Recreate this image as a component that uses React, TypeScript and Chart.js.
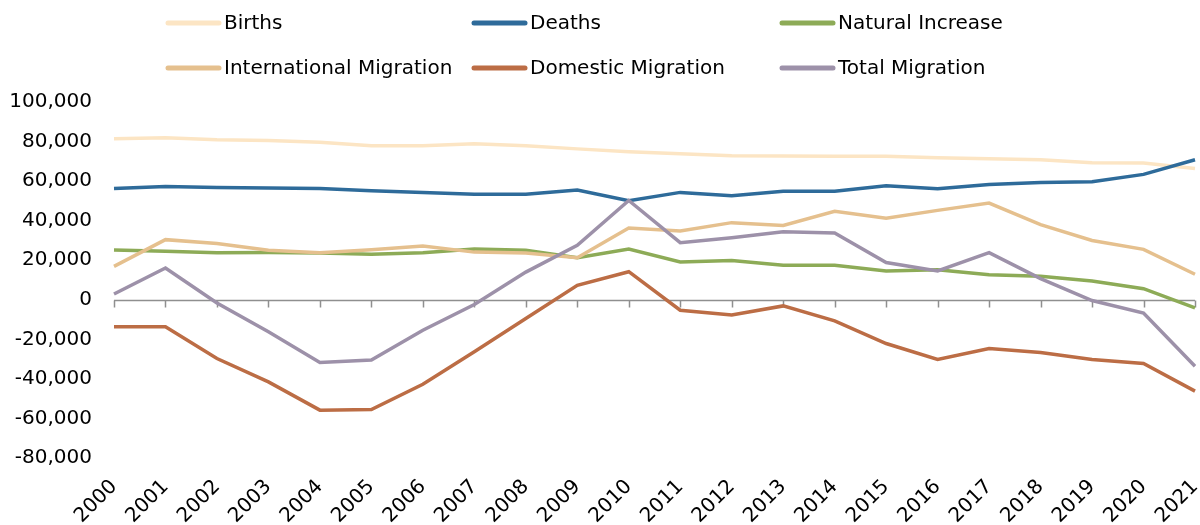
import React, { useEffect, useRef } from "react";
import { Chart, registerables } from "chart.js";

Chart.register(...registerables);

const years = [
  "2000", "2001", "2002", "2003", "2004", "2005", "2006", "2007", "2008", "2009", "2010",
  "2011", "2012", "2013", "2014", "2015", "2016", "2017", "2018", "2019", "2020", "2021",
];

const births = [
  81400, 81900, 80900, 80500, 79700, 77900, 77900, 78900, 77900, 76300, 74800,
  73800, 72800, 72700, 72600, 72600, 71800, 71300, 70800, 69300, 69100, 66400,
];
const deaths = [
  56300, 57300, 56800, 56500, 56300, 55100, 54300, 53400, 53400, 55500, 50100,
  54300, 52600, 54900, 54900, 57700, 56100, 58300, 59300, 59700, 63400, 70800,
];
const naturalIncrease = [
  25200, 24500, 23800, 23900, 23600, 23000, 23800, 25700, 25000, 21300, 25700,
  19100, 19800, 17400, 17400, 14600, 15200, 12700, 11900, 9500, 5600, -4100,
];
const internationalMigration = [
  16900, 30400, 28400, 25000, 23800, 25300, 27200, 24100, 23600, 21300, 36300,
  34800, 39000, 37600, 44700, 41200, 45200, 48900, 38000, 30000, 25500, 12900,
];
const domesticMigration = [
  -13700, -13700, -29700, -41500, -55800, -55500, -42700, -26300, -9500, 7300, 14200,
  -5300, -7700, -3100, -10700, -22100, -30200, -24700, -26700, -30200, -32200, -46200,
];
const totalMigration = [
  2900, 16100, -1600, -16200, -31700, -30400, -15400, -2400, 14000, 27500, 50200,
  28900, 31400, 34400, 33800, 18800, 14600, 23800, 10700, -400, -6700, -33600,
];

const seriesLabels = [
  "Births",
  "Deaths",
  "Natural Increase",
  "International Migration",
  "Domestic Migration",
  "Total Migration",
];
const seriesColors = ["#FCE5C4", "#2E6B9A", "#8DAB57", "#E5C08E", "#BC6D45", "#9D91A9"];
const seriesValues = [
  births,
  deaths,
  naturalIncrease,
  internationalMigration,
  domesticMigration,
  totalMigration,
];

const FONT = "'DejaVu Sans', sans-serif";

// Horizontal axis line at zero with small downward tick marks at each year
const zeroAxisPlugin = {
  id: "zeroAxis",
  beforeDatasetsDraw(chart: any) {
    const { ctx, chartArea } = chart;
    const x = chart.scales.x;
    const y = chart.scales.y;
    const y0 = Math.round(y.getPixelForValue(0)) + 0.5;
    ctx.save();
    ctx.strokeStyle = "#8f8f8f";
    ctx.lineWidth = 1.5;
    ctx.beginPath();
    ctx.moveTo(chartArea.left, y0);
    ctx.lineTo(chartArea.right, y0);
    for (let i = 0; i < years.length; i++) {
      const px = Math.round(x.getPixelForValue(i)) + 0.5;
      ctx.moveTo(px, y0);
      ctx.lineTo(px, y0 + 7);
    }
    ctx.stroke();
    ctx.restore();
  },
};

// Three-column legend across the top of the canvas
const gridLegendPlugin = {
  id: "gridLegend",
  afterDraw(chart: any) {
    const { ctx } = chart;
    const colX = [166, 472, 780];
    const rowY = [23, 68];
    const lineLen = 53;
    ctx.save();
    ctx.font = `20px ${FONT}`;
    ctx.textBaseline = "middle";
    ctx.textAlign = "left";
    chart.data.datasets.forEach((ds: any, i: number) => {
      const cx = colX[i % 3];
      const cy = rowY[Math.floor(i / 3)];
      ctx.strokeStyle = ds.borderColor;
      ctx.lineWidth = 5;
      ctx.lineCap = "round";
      ctx.beginPath();
      ctx.moveTo(cx + 2, cy);
      ctx.lineTo(cx + lineLen, cy);
      ctx.stroke();
      ctx.fillStyle = "#000";
      ctx.fillText(ds.label, cx + lineLen + 5, cy + 1);
    });
    ctx.restore();
  },
};

export default function App() {
  const canvasRef = useRef<HTMLCanvasElement | null>(null);

  useEffect(() => {
    if (!canvasRef.current) return;
    const chart = new Chart(canvasRef.current, {
      type: "line",
      data: {
        labels: years,
        datasets: seriesLabels.map((label, i) => ({
          label,
          data: seriesValues[i],
          borderColor: seriesColors[i],
          backgroundColor: seriesColors[i],
          borderWidth: 3.5,
          pointRadius: 0,
          pointHoverRadius: 0,
          tension: 0,
          fill: false,
          order: seriesLabels.length - i,
        })),
      },
      options: {
        animation: false,
        responsive: true,
        maintainAspectRatio: false,
        layout: { padding: { top: 102, right: 5, left: 0, bottom: 0 } },
        plugins: {
          legend: { display: false },
          tooltip: { enabled: false },
        },
        scales: {
          x: {
            grid: { display: false, drawTicks: false },
            border: { display: false },
            ticks: {
              color: "#000",
              font: { family: FONT, size: 20 },
              minRotation: 45,
              maxRotation: 45,
              autoSkip: false,
              padding: 17,
            },
            afterFit(scale: any) {
              scale.height = 67;
              scale.paddingLeft = 0;
              scale.paddingRight = 0;
            },
          },
          y: {
            min: -80000,
            max: 100000,
            grid: { display: false, drawTicks: false },
            border: { display: false },
            ticks: {
              stepSize: 20000,
              color: "#000",
              font: { family: FONT, size: 20 },
              padding: 22,
              callback: (v: any) => Number(v).toLocaleString("en-US"),
            },
            afterFit(scale: any) {
              scale.width = 114;
            },
          },
        },
      },
      plugins: [zeroAxisPlugin, gridLegendPlugin],
    });
    return () => chart.destroy();
  }, []);

  return (
    <div style={{ position: "absolute", left: 0, top: 0, width: 1200, height: 525, background: "#fff" }}>
      <canvas ref={canvasRef} />
    </div>
  );
}
